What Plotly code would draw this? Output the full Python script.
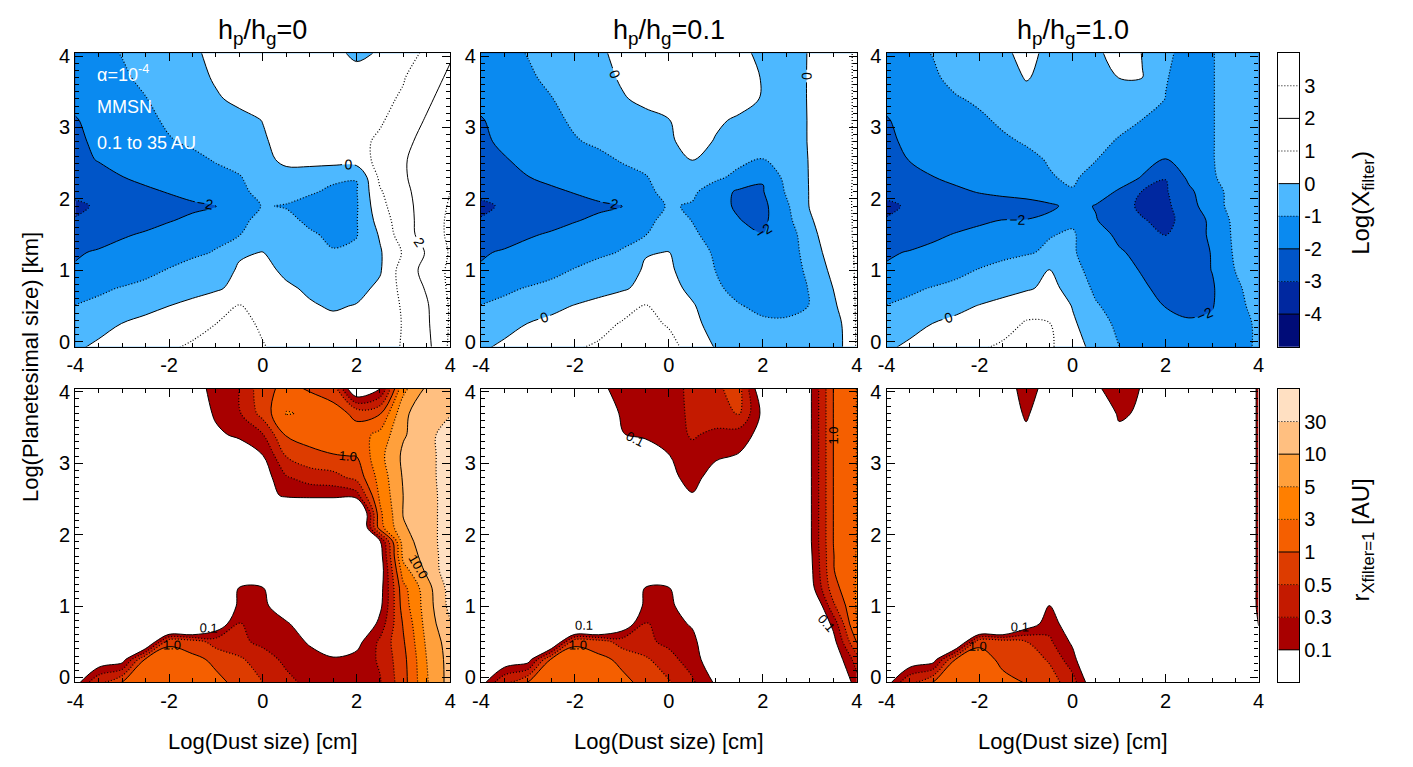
import numpy as np
import plotly.graph_objects as go

# ---------------- grid (shared by all panels) ----------------
X = [-4.0, -3.5, -3.0, -2.5, -2.0, -1.5, -1.0, -0.5, 0.0, 0.5, 1.0, 1.5, 2.0, 2.5, 3.0, 3.5, 4.0]
Y = [-0.1, 0.25, 0.5, 0.75, 1.0, 1.25, 1.5, 1.7, 1.9, 2.1, 2.3, 2.55, 2.8, 3.1, 3.4, 3.7, 4.1]

PANEL_TITLES = ["h<sub>p</sub>/h<sub>g</sub>=0", "h<sub>p</sub>/h<sub>g</sub>=0.1", "h<sub>p</sub>/h<sub>g</sub>=1.0"]

TOP_LEVELS = [-4, -3, -2, -1, 0, 1, 2, 3]
TOP_TICKTEXT = ["-4", "-3", "-2", "-1", "0", "1", "2", "3"]
TOP_COLORS = ["#000c78", "#0028a0", "#0055c8", "#0a8af0", "#4db8ff", "#ffffff", "#ffffff", "#ffffff", "#ffffff"]

R_LEVELS = [0.1, 0.3, 0.5, 1, 3, 5, 10, 30]
R_TICKTEXT = ["0.1", "0.3", "0.5", "1", "3", "5", "10", "30"]
R_SOLID = [0.1, 1, 10]
BOT_COLORS = ["#ffffff", "#a80000", "#c41a00", "#dd3c00", "#f55f00", "#ff7f00", "#ffa03c", "#ffbf80", "#ffe0c2"]

X_TICKS = [-4, -2, 0, 2, 4]
X_TICKTEXT = ["-4", "-2", "0", "2", "4"]
Y_TICKS = [0, 1, 2, 3, 4]

# ---------------- Log(X_filter), rows follow Y, columns follow X ----------------
LOGX_H0 = [
    [-0.1, 0.2, 0.4, 0.6, 0.95, 1.1, 1.2, 1.25, 1.05, 0.8, 0.6, 0.5, 0.55, 0.75, 1.05, 1.7, 3.2],
    [-0.6, -0.3, 0.02, 0.25, 0.5, 0.8, 1.0, 1.2, 0.9, 0.6, 0.4, 0.25, 0.3, 0.5, 1.05, 1.85, 3.1],
    [-0.98, -0.8, -0.5, -0.25, 0.0, 0.3, 0.7, 1.05, 0.7, 0.35, 0.1, -0.1, 0.05, 0.45, 1.1, 1.9, 3.1],
    [-1.3, -1.15, -0.95, -0.8, -0.6, -0.4, -0.15, 0.3, 0.35, 0.15, -0.15, -0.35, -0.3, 0.2, 1.3, 2.1, 3.2],
    [-1.9, -1.7, -1.5, -1.2, -0.95, -0.7, -0.4, 0.1, 0.3, -0.2, -0.5, -0.6, -0.45, -0.1, 1.5, 2.3, 3.2],
    [-2.1, -1.9, -1.7, -1.5, -1.35, -1.15, -0.95, -0.1, 0.02, -0.6, -0.85, -0.95, -0.8, -0.1, 1.1, 2.1, 3.1],
    [-2.6, -2.4, -2.1, -1.9, -1.7, -1.45, -1.2, -1.03, -0.6, -0.7, -0.9, -1.15, -1.05, 0.1, 1.6, 2.4, 3.2],
    [-2.95, -2.75, -2.5, -2.3, -2.05, -1.85, -1.55, -1.2, -0.75, -0.8, -1.15, -1.35, -1.05, 0.4, 1.65, 2.4, 3.2],
    [-3.15, -2.9, -2.65, -2.45, -2.3, -2.15, -2.03, -1.5, -0.95, -1.05, -1.3, -1.4, -1.1, 0.7, 1.7, 2.4, 3.1],
    [-2.8, -2.6, -2.4, -2.15, -1.95, -1.7, -1.45, -1.15, -0.8, -0.7, -0.9, -1.15, -1.05, 0.9, 1.8, 2.4, 3.0],
    [-2.45, -2.3, -2.02, -1.8, -1.6, -1.4, -1.2, -1.04, -0.7, -0.4, -0.55, -0.85, -0.98, 1.2, 1.9, 2.45, 2.95],
    [-2.25, -1.95, -1.75, -1.55, -1.35, -1.15, -0.95, -0.8, -0.3, 0.25, 0.35, 0.4, 0.5, 1.3, 1.9, 2.5, 2.9],
    [-2.15, -1.85, -1.55, -1.3, -1.05, -0.9, -0.7, -0.45, -0.1, 0.3, 0.5, 0.6, 0.75, 1.15, 1.7, 2.4, 2.85],
    [-2.05, -1.75, -1.45, -1.15, -0.9, -0.7, -0.5, -0.25, 0.02, 0.3, 0.6, 0.75, 0.85, 0.9, 1.4, 2.1, 2.8],
    [-1.8, -1.45, -1.2, -1.02, -0.8, -0.45, -0.1, 0.2, 0.4, 0.55, 0.6, 0.6, 0.6, 0.8, 1.1, 1.8, 2.5],
    [-1.6, -1.35, -1.1, -0.85, -0.6, -0.3, 0.1, 0.35, 0.5, 0.55, 0.5, 0.35, 0.25, 0.45, 0.95, 1.5, 2.2],
    [-1.4, -1.15, -0.95, -0.7, -0.4, -0.1, 0.2, 0.4, 0.5, 0.45, 0.3, 0.15, -0.2, 0.02, 0.6, 1.1, 1.8],
]

LOGX_H01 = [
    [-0.1, 0.2, 0.4, 0.6, 0.97, 1.1, 1.2, 1.2, 1.2, 0.8, -0.05, -0.3, -0.45, -0.5, -0.6, -0.7, 1.1],
    [-0.6, -0.3, 0.02, 0.25, 0.5, 0.8, 1.05, 1.15, 0.95, 0.35, -0.5, -0.75, -0.85, -0.85, -0.8, -0.6, 1.1],
    [-0.98, -0.8, -0.5, -0.25, 0.05, 0.35, 0.75, 1.05, 0.7, 0.1, -0.6, -0.95, -1.2, -1.25, -0.98, -0.2, 1.1],
    [-1.3, -1.15, -0.95, -0.8, -0.6, -0.4, -0.15, 0.3, 0.35, -0.25, -0.85, -1.3, -1.5, -1.45, -0.95, 0.02, 1.1],
    [-1.9, -1.7, -1.5, -1.2, -0.95, -0.7, -0.4, 0.1, 0.15, -0.45, -1.02, -1.45, -1.7, -1.6, -0.75, 0.25, 1.1],
    [-2.1, -1.9, -1.7, -1.5, -1.35, -1.15, -0.95, -0.05, 0.02, -0.5, -1.15, -1.6, -1.85, -1.7, -0.45, 0.4, 1.1],
    [-2.6, -2.4, -2.1, -1.9, -1.7, -1.45, -1.2, -1.03, -0.6, -0.85, -1.35, -1.8, -1.98, -1.6, -0.3, 0.6, 1.1],
    [-2.95, -2.75, -2.5, -2.3, -2.05, -1.85, -1.55, -1.2, -0.75, -1.02, -1.5, -1.98, -2.2, -1.3, -0.1, 0.6, 1.1],
    [-3.15, -2.9, -2.65, -2.45, -2.3, -2.15, -2.03, -1.5, -0.9, -1.1, -1.8, -2.1, -2.25, -1.15, 0.05, 0.65, 1.1],
    [-2.8, -2.6, -2.4, -2.15, -1.95, -1.7, -1.45, -1.15, -0.8, -0.8, -1.6, -2.15, -2.05, -0.9, 0.05, 0.65, 1.1],
    [-2.45, -2.3, -2.02, -1.8, -1.6, -1.4, -1.2, -1.04, -0.7, -0.5, -0.8, -1.3, -1.95, -0.7, 0.05, 0.6, 1.1],
    [-2.3, -2.05, -1.8, -1.55, -1.35, -1.15, -0.95, -0.8, -0.3, 0.02, -0.3, -0.75, -1.02, -0.55, 0.05, 0.6, 1.1],
    [-2.15, -1.85, -1.55, -1.3, -1.05, -0.9, -0.7, -0.45, -0.1, 0.25, -0.05, -0.35, -0.55, -0.35, 0.05, 0.6, 1.1],
    [-2.05, -1.75, -1.45, -1.15, -0.9, -0.7, -0.5, -0.25, -0.02, 0.3, 0.1, -0.1, -0.3, -0.35, 0.05, 0.6, 1.1],
    [-1.8, -1.45, -1.2, -1.02, -0.8, -0.45, -0.08, 0.2, 0.35, 0.45, 0.4, 0.25, -0.05, -0.3, 0.05, 0.6, 1.1],
    [-1.6, -1.35, -1.1, -0.85, -0.6, -0.3, 0.1, 0.35, 0.5, 0.55, 0.5, 0.35, -0.05, -0.3, 0.05, 0.6, 1.1],
    [-1.4, -1.15, -0.95, -0.7, -0.4, -0.1, 0.2, 0.4, 0.5, 0.45, 0.35, 0.15, -0.2, -0.35, 0.05, 0.6, 1.1],
]

LOGX_H1 = [
    [-0.1, 0.2, 0.4, 0.6, 0.97, 1.1, 1.2, 1.1, 0.6, -0.4, -0.97, -1.3, -1.5, -1.6, -1.5, -1.5, -0.8],
    [-0.6, -0.3, 0.02, 0.25, 0.5, 0.8, 1.05, 1.02, 0.15, -0.6, -1.2, -1.55, -1.8, -1.9, -1.85, -1.5, -0.8],
    [-0.98, -0.8, -0.5, -0.25, 0.05, 0.35, 0.8, 0.85, -0.05, -0.9, -1.4, -1.75, -2.02, -2.2, -2.05, -1.35, -0.6],
    [-1.3, -1.15, -0.95, -0.8, -0.6, -0.4, -0.15, 0.25, -0.3, -1.2, -1.6, -1.9, -2.2, -2.3, -2.1, -1.2, -0.5],
    [-1.9, -1.7, -1.5, -1.2, -0.95, -0.7, -0.4, 0.03, -0.7, -1.35, -1.75, -2.05, -2.35, -2.4, -1.98, -0.98, -0.4],
    [-2.1, -1.95, -1.8, -1.6, -1.4, -1.25, -1.1, -0.85, -0.9, -1.5, -1.9, -2.25, -2.5, -2.55, -1.95, -0.85, -0.35],
    [-2.6, -2.4, -2.15, -1.95, -1.75, -1.55, -1.35, -1.05, -0.9, -1.6, -2.2, -2.6, -3.02, -2.6, -1.8, -0.8, -0.3],
    [-2.95, -2.75, -2.5, -2.3, -2.15, -1.98, -1.98, -1.75, -1.15, -1.95, -2.5, -2.95, -3.2, -2.7, -1.75, -0.75, -0.3],
    [-3.15, -2.9, -2.7, -2.55, -2.45, -2.4, -2.3, -2.2, -1.7, -2.05, -2.7, -3.15, -3.2, -2.4, -1.4, -0.65, -0.3],
    [-2.8, -2.6, -2.4, -2.15, -1.95, -1.8, -1.7, -1.2, -1.05, -1.6, -2.1, -3.05, -3.1, -2.2, -1.35, -0.65, -0.3],
    [-2.45, -2.3, -2.02, -1.8, -1.6, -1.4, -1.2, -1.05, -0.9, -1.25, -1.6, -2.05, -2.98, -1.8, -1.1, -0.6, -0.3],
    [-2.25, -1.97, -1.75, -1.55, -1.35, -1.15, -1.15, -0.95, -0.75, -0.98, -1.35, -1.7, -2.02, -1.6, -1.05, -0.55, -0.3],
    [-2.15, -1.85, -1.6, -1.4, -1.25, -1.1, -0.95, -0.7, -0.5, -0.7, -1.1, -1.35, -1.55, -1.4, -1.05, -0.55, -0.3],
    [-2.05, -1.75, -1.45, -1.25, -1.1, -0.9, -0.65, -0.4, -0.3, -0.45, -0.7, -1.02, -1.1, -1.2, -1.05, -0.55, -0.3],
    [-1.8, -1.5, -1.25, -1.05, -0.9, -0.6, -0.25, -0.3, -0.3, -0.3, -0.2, -0.45, -1.02, -1.3, -1.05, -0.55, -0.3],
    [-1.6, -1.35, -1.1, -0.8, -0.6, -0.35, 0.05, -0.2, -0.4, -0.25, 0.01, 0.01, -0.95, -1.35, -1.05, -0.55, -0.3],
    [-1.4, -1.15, -0.95, -0.7, -0.45, -0.15, 0.3, -0.2, -0.5, -0.1, 0.3, -0.02, -0.8, -1.3, -1.05, -0.55, -0.3],
]

# ---------------- r_Xfilter=1 [AU], rows follow Y, columns follow X ----------------
R_H0 = [
    [0.05, 0.6, 1.55, 1.73, 1.73, 1.55, 1.25, 0.9, 0.52, 0.35, 0.24, 0.17, 0.19, 0.27, 0.76, 4.75, 15.5],
    [0.005, 0.01, 0.03, 1.25, 1.55, 1.25, 0.9, 0.57, 0.37, 0.24, 0.14, 0.12, 0.15, 0.32, 0.81, 5.05, 15.5],
    [0.001, 0.001, 0.001, 0.001, 0.9, 0.75, 0.39, 0.33, 0.24, 0.155, 0.08, 0.01, 0.04, 0.33, 0.93, 5.74, 17.3],
    [0.001, 0.001, 0.001, 0.00001, 0.00001, 0.00001, 0.01, 0.31, 0.19, 0.125, 0.01, 0.001, 0.001, 0.155, 1.12, 6.6, 26.9],
    [0.001, 0.001, 0.001, 0.001, 0.001, 0.001, 0.001, 0.14, 0.147, 0.01, 0.001, 0.001, 0.001, 0.05, 1.73, 7.07, 43.0],
    [0.001, 0.001, 0.001, 0.001, 0.001, 0.001, 0.001, 0.112, 0.112, 0.001, 0.001, 0.001, 0.001, 0.032, 2.16, 7.58, 48.5],
    [0.001, 0.001, 0.001, 0.001, 0.001, 0.001, 0.001, 0.001, 0.001, 0.001, 0.001, 0.001, 0.001, 0.016, 4.08, 12.5, 69.7],
    [0.001, 0.001, 0.001, 0.001, 0.001, 0.001, 0.001, 0.001, 0.001, 0.001, 0.001, 0.001, 0.001, 0.025, 6.16, 15.5, 61.8],
    [0.001, 0.001, 0.001, 0.001, 0.001, 0.001, 0.001, 0.001, 0.001, 0.001, 0.001, 0.001, 0.001, 0.063, 7.58, 17.3, 61.8],
    [0.001, 0.001, 0.001, 0.001, 0.001, 0.001, 0.001, 0.001, 0.001, 0.001, 0.001, 0.001, 0.0001, 1.93, 9.33, 17.3, 61.8],
    [0.001, 0.001, 0.001, 0.001, 0.001, 0.001, 0.001, 0.001, 0.001, 0.001, 0.001, 0.001, 0.0001, 2.41, 10.6, 17.3, 61.8],
    [0.001, 0.001, 0.001, 0.001, 0.001, 0.001, 0.001, 0.001, 0.032, 0.125, 0.14, 0.14, 0.19, 3.32, 10.2, 17.3, 61.8],
    [0.001, 0.001, 0.001, 0.001, 0.001, 0.001, 0.001, 0.001, 0.025, 0.27, 0.37, 0.41, 0.62, 3.68, 11.2, 19.3, 61.8],
    [0.001, 0.001, 0.001, 0.001, 0.001, 0.001, 0.001, 0.001, 0.089, 0.51, 0.81, 0.97, 1.02, 4.29, 12.5, 19.3, 61.8],
    [0.001, 0.001, 0.001, 0.001, 0.001, 0.001, 0.032, 0.173, 0.285, 1.12, 1.55, 1.55, 1.73, 3.5, 9.33, 19.3, 61.8],
    [0.001, 0.001, 0.001, 0.001, 0.001, 0.001, 0.155, 0.27, 0.66, 3.08, 2.69, 1.73, 0.81, 0.93, 8.7, 19.3, 26.9],
    [0.001, 0.001, 0.001, 0.001, 0.001, 0.032, 0.155, 0.285, 0.81, 1.25, 0.81, 0.57, 0.001, 0.032, 3.87, 10.2, 24.1],
]

R_H01 = [
    [0.05, 0.6, 1.55, 1.73, 1.73, 1.55, 1.25, 0.9, 0.57, 0.33, 0.08, 0.001, 0.001, 0.001, 0.001, 0.001, 0.173],
    [0.001, 0.01, 0.03, 1.25, 1.55, 1.25, 0.9, 0.57, 0.35, 0.19, 0.01, 0.001, 0.001, 0.001, 0.001, 0.01, 0.39],
    [0.001, 0.001, 0.001, 0.001, 0.9, 0.75, 0.39, 0.33, 0.24, 0.173, 0.001, 0.001, 0.001, 0.001, 0.001, 0.04, 1.12],
    [0.001, 0.001, 0.001, 0.00001, 0.00001, 0.00001, 0.01, 0.31, 0.216, 0.063, 0.001, 0.001, 0.001, 0.001, 0.001, 0.14, 3.32],
    [0.001, 0.001, 0.001, 0.001, 0.001, 0.001, 0.001, 0.14, 0.147, 0.01, 0.001, 0.001, 0.001, 0.001, 0.001, 0.45, 3.16],
    [0.001, 0.001, 0.001, 0.001, 0.001, 0.001, 0.001, 0.112, 0.112, 0.001, 0.001, 0.001, 0.001, 0.001, 0.025, 0.76, 3.16],
    [0.001, 0.001, 0.001, 0.001, 0.001, 0.001, 0.001, 0.001, 0.001, 0.001, 0.001, 0.001, 0.001, 0.001, 0.04, 0.97, 3.08],
    [0.001, 0.001, 0.001, 0.001, 0.001, 0.001, 0.001, 0.001, 0.001, 0.001, 0.001, 0.001, 0.001, 0.001, 0.05, 0.98, 3.08],
    [0.001, 0.001, 0.001, 0.001, 0.001, 0.001, 0.001, 0.001, 0.001, 0.001, 0.001, 0.001, 0.001, 0.001, 0.063, 1.01, 3.03],
    [0.001, 0.001, 0.001, 0.001, 0.001, 0.001, 0.001, 0.001, 0.001, 0.001, 0.001, 0.001, 0.001, 0.001, 0.063, 1.01, 3.03],
    [0.001, 0.001, 0.001, 0.001, 0.001, 0.001, 0.001, 0.001, 0.001, 0.001, 0.001, 0.001, 0.001, 0.001, 0.063, 1.01, 3.03],
    [0.001, 0.001, 0.001, 0.001, 0.001, 0.001, 0.001, 0.001, 0.001, 0.08, 0.001, 0.001, 0.001, 0.001, 0.063, 1.01, 3.03],
    [0.001, 0.001, 0.001, 0.001, 0.001, 0.001, 0.001, 0.001, 0.04, 0.173, 0.02, 0.001, 0.001, 0.001, 0.063, 1.01, 3.03],
    [0.001, 0.001, 0.001, 0.001, 0.001, 0.001, 0.001, 0.001, 0.089, 0.216, 0.125, 0.08, 0.0032, 0.001, 0.063, 1.01, 3.03],
    [0.001, 0.001, 0.001, 0.001, 0.001, 0.001, 0.08, 0.173, 0.193, 0.315, 0.24, 0.173, 0.04, 0.001, 0.063, 1.01, 3.03],
    [0.001, 0.001, 0.001, 0.001, 0.001, 0.001, 0.14, 0.173, 0.193, 0.33, 0.39, 0.54, 0.05, 0.001, 0.063, 1.01, 3.03],
    [0.001, 0.001, 0.001, 0.001, 0.001, 0.063, 0.155, 0.173, 0.216, 0.33, 0.475, 0.62, 0.0032, 0.001, 0.063, 1.01, 3.03],
]

R_H1 = [
    [0.05, 0.6, 1.55, 1.55, 1.55, 1.25, 1.03, 0.71, 0.39, 0.01, 0.001, 0.001, 0.001, 0.001, 0.001, 0.001, 0.001],
    [0.001, 0.01, 0.03, 1.25, 1.39, 0.9, 0.71, 0.475, 0.155, 0.001, 0.001, 0.001, 0.001, 0.001, 0.001, 0.001, 0.001],
    [0.001, 0.001, 0.001, 0.001, 0.9, 0.75, 0.51, 0.33, 0.063, 0.001, 0.001, 0.001, 0.001, 0.001, 0.001, 0.001, 0.001],
    [0.001, 0.001, 0.001, 0.00001, 0.00001, 0.00001, 0.016, 0.193, 0.016, 0.001, 0.001, 0.001, 0.001, 0.001, 0.001, 0.001, 0.13],
    [0.001, 0.001, 0.001, 0.001, 0.001, 0.001, 0.001, 0.106, 0.0032, 0.001, 0.001, 0.001, 0.001, 0.001, 0.001, 0.001, 0.13],
    [0.001, 0.001, 0.001, 0.001, 0.001, 0.001, 0.001, 0.001, 0.001, 0.001, 0.001, 0.001, 0.001, 0.001, 0.001, 0.001, 0.13],
    [0.001, 0.001, 0.001, 0.001, 0.001, 0.001, 0.001, 0.001, 0.001, 0.001, 0.001, 0.001, 0.001, 0.001, 0.001, 0.001, 0.13],
    [0.001, 0.001, 0.001, 0.001, 0.001, 0.001, 0.001, 0.001, 0.001, 0.001, 0.001, 0.001, 0.001, 0.001, 0.001, 0.001, 0.13],
    [0.001, 0.001, 0.001, 0.001, 0.001, 0.001, 0.001, 0.001, 0.001, 0.001, 0.001, 0.001, 0.001, 0.001, 0.001, 0.001, 0.13],
    [0.001, 0.001, 0.001, 0.001, 0.001, 0.001, 0.001, 0.001, 0.001, 0.001, 0.001, 0.001, 0.001, 0.001, 0.001, 0.001, 0.13],
    [0.001, 0.001, 0.001, 0.001, 0.001, 0.001, 0.001, 0.001, 0.001, 0.001, 0.001, 0.001, 0.001, 0.001, 0.001, 0.001, 0.13],
    [0.001, 0.001, 0.001, 0.001, 0.001, 0.001, 0.001, 0.001, 0.001, 0.001, 0.001, 0.001, 0.001, 0.001, 0.001, 0.001, 0.13],
    [0.001, 0.001, 0.001, 0.001, 0.001, 0.001, 0.001, 0.001, 0.001, 0.001, 0.001, 0.001, 0.001, 0.001, 0.001, 0.001, 0.13],
    [0.001, 0.001, 0.001, 0.001, 0.001, 0.001, 0.001, 0.001, 0.001, 0.001, 0.001, 0.001, 0.001, 0.001, 0.001, 0.001, 0.13],
    [0.001, 0.001, 0.001, 0.001, 0.001, 0.001, 0.025, 0.001, 0.001, 0.001, 0.032, 0.001, 0.001, 0.001, 0.001, 0.001, 0.13],
    [0.001, 0.001, 0.001, 0.001, 0.001, 0.001, 0.155, 0.001, 0.001, 0.001, 0.14, 0.05, 0.001, 0.001, 0.001, 0.001, 0.13],
    [0.001, 0.001, 0.001, 0.001, 0.001, 0.01, 0.24, 0.025, 0.001, 0.063, 0.33, 0.079, 0.001, 0.001, 0.001, 0.001, 0.13],
]

FONT = "Liberation Sans, Arial, Helvetica, sans-serif"
DOT = "1px,2px"
TICKC = "black"

# ---------------- layout geometry (paper fractions) ----------------
W, H = 1413, 767
COL_DOM = [[67 / W, 446 / W], [477 / W, 857 / W], [887 / W, 1263 / W]]
CB_DOM = [1283 / W, 1304 / W]
ROW_DOM = [[1 - 345 / H, 1 - 46 / H], [1 - 687 / H, 1 - 388 / H]]
YRANGE = [-0.07, 4.04]


def step_scale(colors):
    n = len(colors)
    sc = []
    for k, c in enumerate(colors):
        lo = max(0.0, (k - 0.5) / (n - 1))
        hi = min(1.0, (k + 0.5) / (n - 1))
        sc.append([lo, c])
        sc.append([hi, c])
    return sc


def r_to_band(r):
    """position of r on the (uneven) level scale: level i -> i, log-linear between levels"""
    r = np.asarray(r, dtype=float)
    lr = np.log10(r)
    ll = np.log10(np.array(R_LEVELS + [100.0]))
    band = np.interp(lr, ll, np.arange(len(ll), dtype=float))
    return np.where(lr < ll[0], lr - ll[0], band)


fig = go.Figure()
SMOOTH = 1.0


def ax_names(i):
    return ("x" if i == 1 else f"x{i}"), ("y" if i == 1 else f"y{i}")


top_data = [LOGX_H0, LOGX_H01, LOGX_H1]
bot_data = [R_H0, R_H01, R_H1]

for c in range(3):
    # ---- top row : Log(X_filter)
    xa, ya = ax_names(c + 1)
    z = top_data[c]
    fig.add_trace(go.Contour(
        x=X, y=Y, z=z, xaxis=xa, yaxis=ya, autocontour=False,
        contours=dict(start=TOP_LEVELS[0], end=TOP_LEVELS[-1], size=1, coloring="fill", showlines=False),
        colorscale=step_scale(TOP_COLORS), showscale=False, line=dict(width=0, smoothing=SMOOTH),
        hoverinfo="skip"))
    fig.add_trace(go.Contour(
        x=X, y=Y, z=z, xaxis=xa, yaxis=ya, autocontour=False,
        contours=dict(start=-3, end=3, size=2, coloring="none"),
        line=dict(color="black", width=1.2, dash=DOT, smoothing=SMOOTH), showscale=False, hoverinfo="skip"))
    fig.add_trace(go.Contour(
        x=X, y=Y, z=z, xaxis=xa, yaxis=ya, autocontour=False,
        contours=dict(start=-4, end=2, size=2, coloring="none", showlabels=True,
                      labelfont=dict(family=FONT, size=14, color="black")),
        line=dict(color="black", width=1, smoothing=SMOOTH), showscale=False, hoverinfo="skip"))

    # ---- bottom row : r_Xfilter=1
    xa, ya = ax_names(c + 4)
    r = bot_data[c]
    zb = r_to_band(r).tolist()
    fig.add_trace(go.Contour(
        x=X, y=Y, z=zb, xaxis=xa, yaxis=ya, autocontour=False,
        contours=dict(start=0, end=len(R_LEVELS) - 1, size=1, coloring="fill", showlines=False),
        colorscale=step_scale(BOT_COLORS), showscale=False, line=dict(width=0, smoothing=SMOOTH),
        hoverinfo="skip"))
    for (s, e, st) in [(1, 7, 3), (2, 5, 3)]:
        fig.add_trace(go.Contour(
            x=X, y=Y, z=zb, xaxis=xa, yaxis=ya, autocontour=False,
            contours=dict(start=s, end=e, size=st, coloring="none"),
            line=dict(color="black", width=1.2, dash=DOT, smoothing=SMOOTH), showscale=False, hoverinfo="skip"))
    fig.add_trace(go.Contour(
        x=X, y=Y, z=zb, xaxis=xa, yaxis=ya, autocontour=False,
        contours=dict(start=0, end=6, size=3, coloring="none"),
        line=dict(color="black", width=1, smoothing=SMOOTH), showscale=False, hoverinfo="skip"))
    # labels of the solid levels, in AU
    for lv in R_SOLID:
        fig.add_trace(go.Contour(
            x=X, y=Y, z=r, xaxis=xa, yaxis=ya, autocontour=False,
            contours=dict(start=lv, end=lv, size=1, coloring="none", showlabels=True, labelformat=".1f",
                          labelfont=dict(family=FONT, size=13, color="black")),
            line=dict(color="rgba(0,0,0,0)", width=1, smoothing=SMOOTH), showscale=False, hoverinfo="skip"))

# ---------------- colour bars (own small axes) ----------------
top_centers = [TOP_LEVELS[0] - 0.5] + [lv + 0.5 for lv in TOP_LEVELS]
fig.add_trace(go.Heatmap(x=[0.5], y=top_centers, z=[[k] for k in range(len(top_centers))],
                         zmin=0, zmax=len(top_centers) - 1, colorscale=step_scale(TOP_COLORS),
                         showscale=False, xaxis="x7", yaxis="y7", hoverinfo="skip"))
for lv in TOP_LEVELS:
    fig.add_trace(go.Scatter(x=[0, 1], y=[lv, lv], mode="lines", xaxis="x7", yaxis="y7",
                             line=dict(color="black", width=1, dash="solid" if lv % 2 == 0 else DOT),
                             hoverinfo="skip"))
bidx = list(range(len(R_LEVELS)))
bot_centers = [-0.5] + [k + 0.5 for k in bidx]
fig.add_trace(go.Heatmap(x=[0.5], y=bot_centers, z=[[k] for k in range(len(bot_centers))],
                         zmin=0, zmax=len(bot_centers) - 1, colorscale=step_scale(BOT_COLORS),
                         showscale=False, xaxis="x8", yaxis="y8", hoverinfo="skip"))
for k, lv in zip(bidx, R_LEVELS):
    fig.add_trace(go.Scatter(x=[0, 1], y=[k, k], mode="lines", xaxis="x8", yaxis="y8",
                             line=dict(color="black", width=1, dash="solid" if lv in R_SOLID else DOT),
                             hoverinfo="skip"))

# ---------------- axes ----------------
tickfont = dict(family=FONT, size=20, color="black")
layout = {}
for i in range(1, 7):
    row = 0 if i <= 3 else 1
    col = (i - 1) % 3
    xk = "xaxis" if i == 1 else f"xaxis{i}"
    yk = "yaxis" if i == 1 else f"yaxis{i}"
    xa, ya = ax_names(i)
    layout[xk] = dict(domain=COL_DOM[col], anchor=ya, range=[-4, 4],
                      tickvals=X_TICKS, ticktext=X_TICKTEXT,
                      ticks="inside", ticklen=8, tickcolor=TICKC, tickwidth=1.2,
                      minor=dict(tickmode="linear", dtick=0.5, tick0=0, ticks="inside", ticklen=4,
                                 tickcolor=TICKC, tickwidth=1),
                      showline=True, linecolor="black", linewidth=1.2, mirror="allticks",
                      showgrid=False, zeroline=False, tickfont=tickfont)
    layout[yk] = dict(domain=ROW_DOM[row], anchor=xa, range=YRANGE,
                      tickvals=Y_TICKS,
                      ticks="inside", ticklen=8, tickcolor=TICKC, tickwidth=1.2,
                      minor=dict(tickmode="linear", dtick=0.1, tick0=0, ticks="inside", ticklen=4,
                                 tickcolor=TICKC, tickwidth=1),
                      showline=True, linecolor="black", linewidth=1.2, mirror="allticks",
                      showgrid=False, zeroline=False, tickfont=tickfont)

for i, row, rng, tv, tt in [(7, 0, [-5, 4], TOP_LEVELS, TOP_TICKTEXT),
                            (8, 1, [-1, 8], bidx, R_TICKTEXT)]:
    layout[f"xaxis{i}"] = dict(domain=CB_DOM, anchor=f"y{i}", range=[0, 1], showticklabels=False,
                               ticks="", showline=True, linecolor="black", mirror=True,
                               showgrid=False, zeroline=False)
    layout[f"yaxis{i}"] = dict(domain=ROW_DOM[row], anchor=f"x{i}", range=rng, side="right",
                               tickvals=tv, ticktext=tt, ticks="", showline=True, linecolor="black",
                               mirror=True, showgrid=False, zeroline=False, tickfont=tickfont)

annotations = []
for c in range(3):
    xc = (COL_DOM[c][0] + COL_DOM[c][1]) / 2
    annotations.append(dict(text=PANEL_TITLES[c], x=xc, y=1 - 24 / H, xref="paper", yref="paper",
                            showarrow=False, xanchor="center", yanchor="middle",
                            font=dict(family=FONT, size=27, color="black")))
    annotations.append(dict(text="Log(Dust size) [cm]", x=xc, y=1 - 747 / H, xref="paper", yref="paper",
                            showarrow=False, xanchor="center", yanchor="middle",
                            font=dict(family=FONT, size=22, color="black")))
annotations.append(dict(text="Log(Planetesimal size) [km]", x=22 / W, y=1 - 366 / H, xref="paper",
                        yref="paper", showarrow=False, textangle=-90, xanchor="center", yanchor="middle",
                        font=dict(family=FONT, size=22, color="black")))
annotations.append(dict(text="Log(X<sub>filter</sub>)", x=1368 / W, y=1 - 198 / H, xref="paper",
                        yref="paper", showarrow=False, textangle=-90, xanchor="center", yanchor="middle",
                        font=dict(family=FONT, size=24, color="black")))
annotations.append(dict(text="r<sub>Xfilter=1</sub> [AU]", x=1368 / W, y=1 - 542 / H, xref="paper",
                        yref="paper", showarrow=False, textangle=-90, xanchor="center", yanchor="middle",
                        font=dict(family=FONT, size=24, color="black")))
for txt, yv in [("α=10<sup>-4</sup>", 3.76), ("MMSN", 3.29), ("0.1 to 35 AU", 2.78)]:
    annotations.append(dict(text=txt, x=-3.58, y=yv, xref="x", yref="y", showarrow=False,
                            xanchor="left", yanchor="middle", font=dict(family=FONT, size=18, color="white")))

fig.update_layout(**layout)
fig.update_layout(width=W, height=H, margin=dict(l=0, r=0, t=0, b=0), showlegend=False,
                  paper_bgcolor="white", plot_bgcolor="white", annotations=annotations,
                  font=dict(family=FONT, color="black"))

# no mode bar, and no body margin so the 1413x767 figure fills the window exactly
fig.write_html("out.html", config={"displayModeBar": False},
               post_script="document.body.style.margin='0';document.body.style.overflow='hidden';")
